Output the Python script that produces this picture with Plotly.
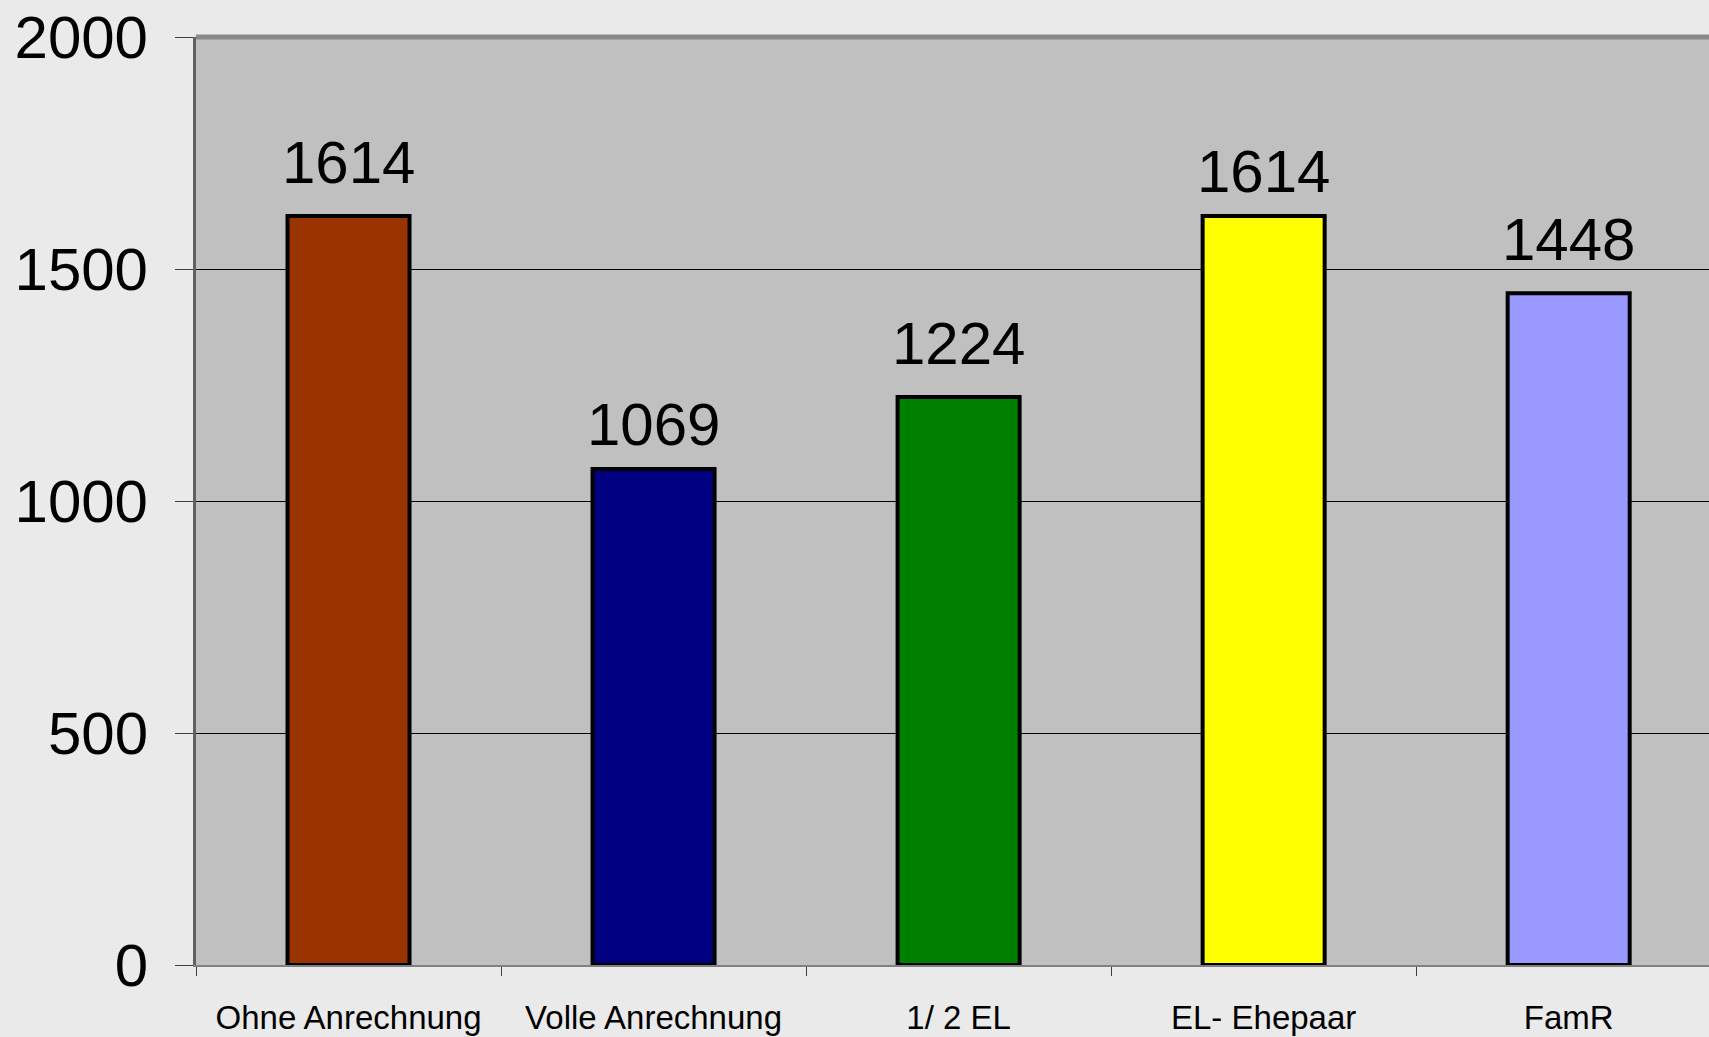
import plotly.graph_objects as go

categories = ["Ohne Anrechnung", "Volle Anrechnung", "1/ 2 EL", "EL- Ehepaar", "FamR"]
values = [1614, 1069, 1224, 1614, 1448]
colors = ["#993300", "#000080", "#008000", "#FFFF00", "#9999FF"]
y_ticks = [0, 500, 1000, 1500, 2000]
label_shift_px = [18, 9, 18, 9, 18]  # gap between bar top and value label

fig = go.Figure()
fig.add_trace(go.Bar(
    x=categories, y=values, width=0.4,
    marker=dict(color=colors, line=dict(color="black", width=4)),
    showlegend=False, hoverinfo="skip",
))

for c, v, s in zip(categories, values, label_shift_px):
    fig.add_annotation(x=c, y=v, text=str(v), showarrow=False,
                       yanchor="bottom", yshift=s,
                       font=dict(family="Liberation Sans, Arial", size=60, color="black"))

fig.update_layout(
    width=1709, height=1037,
    margin=dict(l=196, r=0, t=37, b=72),
    paper_bgcolor="#EAEAEA", plot_bgcolor="#C0C0C0",
    font=dict(family="Liberation Sans, Arial", color="black"),
    bargap=0.6,
)
# top border of the plot area (thick grey)
fig.add_shape(type="line", xref="paper", yref="paper", x0=0, x1=1, y0=1, y1=1,
              line=dict(color="#888888", width=5), layer="above")
fig.update_xaxes(
    range=[-0.5, 4.46], showline=True, linecolor="#808080", linewidth=2,
    ticks="outside", tickson="boundaries", ticklen=9, tickcolor="#404040", tickwidth=1,
    ticklabelstandoff=22, tickfont=dict(size=33), showgrid=False,
)
fig.update_yaxes(
    range=[0, 2000], tickvals=y_ticks, showline=True, linecolor="#606060", linewidth=3,
    ticks="outside", ticklen=18, tickcolor="#404040", tickwidth=1,
    ticklabelstandoff=15, tickfont=dict(size=60),
    showgrid=True, gridcolor="black", gridwidth=1, zeroline=False,
)

fig.write_html("out.html", config={"displayModeBar": False},
               post_script="document.body.style.margin='0px';")
